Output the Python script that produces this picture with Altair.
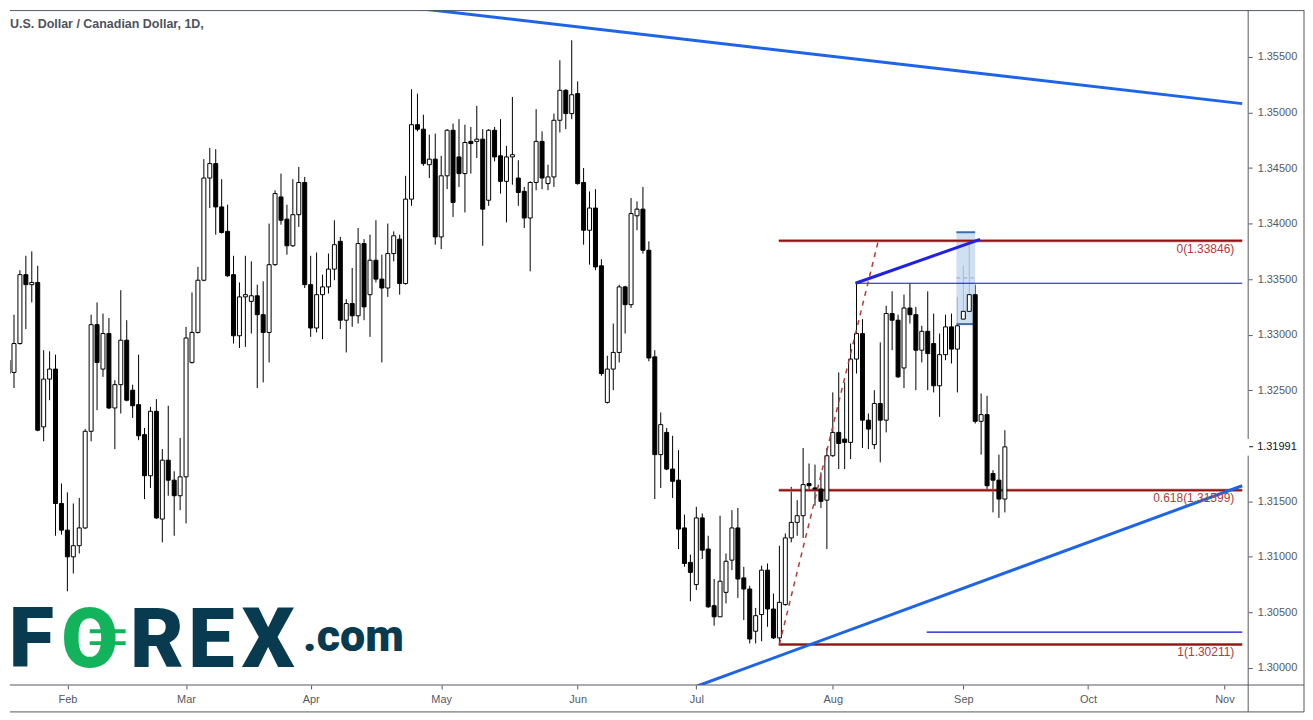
import altair as alt
import pandas as pd

# ---------------- data ----------------
FIRST_BAR = -10  # bar index of the first candle (index 0 = 1 Feb)

opens = [
    1.3277, 1.3266, 1.3292, 1.3354, 1.3345, 1.3347, 1.3217, 1.3260, 1.3269, 1.3148,
    1.3124, 1.3100, 1.3110, 1.3126, 1.3213, 1.3309, 1.3269, 1.3301, 1.3234, 1.3255,
    1.3295, 1.3250, 1.3237, 1.3210, 1.3173, 1.3231, 1.3134, 1.3187, 1.3169, 1.3155,
    1.3172, 1.3275, 1.3302, 1.3349, 1.3441, 1.3454, 1.3415, 1.3393, 1.3354, 1.3299,
    1.3334, 1.3330, 1.3335, 1.3318, 1.3302, 1.3363, 1.3424, 1.3404, 1.3380, 1.3408,
    1.3437, 1.3345, 1.3306, 1.3336, 1.3343, 1.3359, 1.3384, 1.3313, 1.3328, 1.3317,
    1.3382, 1.3336, 1.3367, 1.3350, 1.3342, 1.3373, 1.3386, 1.3346, 1.3422, 1.3489,
    1.3485, 1.3453, 1.3458, 1.3388, 1.3443, 1.3484, 1.3460, 1.3445, 1.3474, 1.3474,
    1.3476, 1.3421, 1.3484, 1.3461, 1.3438, 1.3460, 1.3441, 1.3429, 1.3405, 1.3437,
    1.3474, 1.3436, 1.3442, 1.3493, 1.3520, 1.3499, 1.3517, 1.3437, 1.3394, 1.3414,
    1.3362, 1.3239, 1.3269, 1.3284, 1.3343, 1.3327, 1.3407, 1.3413, 1.3376, 1.3280,
    1.3192, 1.3212, 1.3179, 1.3169, 1.3126, 1.3095, 1.3075, 1.3135, 1.3107, 1.3056,
    1.3046, 1.3068, 1.3097, 1.3126, 1.3081, 1.3071, 1.3033, 1.3048, 1.3088, 1.3053,
    1.3027, 1.3057, 1.3117, 1.3131, 1.3137, 1.3166, 1.3162, 1.3161, 1.3151, 1.3191,
    1.3212, 1.3206, 1.3203, 1.3278, 1.3301, 1.3223, 1.3201, 1.3238, 1.3223, 1.3319,
    1.3313, 1.3270, 1.3324, 1.3318, 1.3286, 1.3303, 1.3292, 1.3254, 1.3282, 1.3307,
    1.3287, 1.3314, 1.3321, 1.3336, 1.3222, 1.3228, 1.3175, 1.3169, 1.3152,
]
highs = [
    1.3284, 1.3318, 1.3358, 1.3371, 1.3375, 1.3362, 1.3286, 1.3285, 1.3282, 1.3166,
    1.3158, 1.3148, 1.3153, 1.3215, 1.3318, 1.3329, 1.3319, 1.3315, 1.3259, 1.3340,
    1.3313, 1.3255, 1.3282, 1.3216, 1.3235, 1.3242, 1.3197, 1.3236, 1.3177, 1.3207,
    1.3307, 1.3338, 1.3361, 1.3458, 1.3468, 1.3467, 1.3440, 1.3417, 1.3371, 1.3347,
    1.3371, 1.3366, 1.3345, 1.3348, 1.3400, 1.3430, 1.3445, 1.3417, 1.3440, 1.3451,
    1.3442, 1.3371, 1.3374, 1.3354, 1.3373, 1.3403, 1.3388, 1.3332, 1.3360, 1.3396,
    1.3386, 1.3390, 1.3403, 1.3372, 1.3400, 1.3393, 1.3390, 1.3443, 1.3521, 1.3517,
    1.3498, 1.3480, 1.3481, 1.3461, 1.3485, 1.3490, 1.3494, 1.3489, 1.3487, 1.3506,
    1.3485, 1.3485, 1.3487, 1.3494, 1.3470, 1.3514, 1.3457, 1.3433, 1.3438, 1.3503,
    1.3483, 1.3453, 1.3499, 1.3547, 1.3521, 1.3565, 1.3528, 1.3450, 1.3429, 1.3431,
    1.3368, 1.3281, 1.3310, 1.3345, 1.3344, 1.3423, 1.3420, 1.3433, 1.3384, 1.3286,
    1.3230, 1.3216, 1.3209, 1.3196, 1.3138, 1.3102, 1.3145, 1.3139, 1.3119, 1.3080,
    1.3137, 1.3103, 1.3142, 1.3144, 1.3091, 1.3074, 1.3054, 1.3092, 1.3094, 1.3067,
    1.3110, 1.3121, 1.3163, 1.3151, 1.3198, 1.3184, 1.3183, 1.3176, 1.3198, 1.3248,
    1.3266, 1.3257, 1.3292, 1.3346, 1.3314, 1.3229, 1.3250, 1.3293, 1.3326, 1.3339,
    1.3318, 1.3336, 1.3346, 1.3325, 1.3308, 1.3339, 1.3319, 1.3301, 1.3318, 1.3319,
    1.3334, 1.3362, 1.3385, 1.3345, 1.3247, 1.3245, 1.3178, 1.3192, 1.3214,
]
lows = [
    1.3229, 1.3252, 1.3291, 1.3305, 1.3329, 1.3213, 1.3204, 1.3241, 1.3119, 1.3120,
    1.3069, 1.3085, 1.3103, 1.3125, 1.3204, 1.3232, 1.3262, 1.3233, 1.3197, 1.3229,
    1.3240, 1.3225, 1.3205, 1.3152, 1.3162, 1.3134, 1.3113, 1.3155, 1.3119, 1.3142,
    1.3130, 1.3274, 1.3301, 1.3348, 1.3414, 1.3390, 1.3391, 1.3352, 1.3292, 1.3288,
    1.3289, 1.3301, 1.3252, 1.3257, 1.3275, 1.3362, 1.3399, 1.3372, 1.3379, 1.3397,
    1.3342, 1.3298, 1.3302, 1.3296, 1.3337, 1.3349, 1.3305, 1.3284, 1.3307, 1.3310,
    1.3313, 1.3298, 1.3347, 1.3275, 1.3334, 1.3366, 1.3336, 1.3345, 1.3416, 1.3483,
    1.3452, 1.3441, 1.3381, 1.3377, 1.3431, 1.3406, 1.3433, 1.3410, 1.3445, 1.3459,
    1.3380, 1.3416, 1.3456, 1.3427, 1.3401, 1.3435, 1.3416, 1.3396, 1.3357, 1.3430,
    1.3431, 1.3430, 1.3433, 1.3482, 1.3485, 1.3494, 1.3435, 1.3381, 1.3363, 1.3358,
    1.3263, 1.3238, 1.3250, 1.3275, 1.3301, 1.3324, 1.3394, 1.3373, 1.3276, 1.3152,
    1.3162, 1.3178, 1.3153, 1.3107, 1.3091, 1.3060, 1.3070, 1.3098, 1.3054, 1.3038,
    1.3046, 1.3058, 1.3088, 1.3063, 1.3043, 1.3022, 1.3022, 1.3024, 1.3037, 1.3026,
    1.3021, 1.3056, 1.3113, 1.3119, 1.3117, 1.3160, 1.3146, 1.3144, 1.3107, 1.3190,
    1.3179, 1.3179, 1.3188, 1.3265, 1.3198, 1.3197, 1.3197, 1.3185, 1.3212, 1.3286,
    1.3261, 1.3252, 1.3310, 1.3250, 1.3275, 1.3250, 1.3248, 1.3226, 1.3277, 1.3274,
    1.3248, 1.3313, 1.3320, 1.3220, 1.3192, 1.3160, 1.3140, 1.3135, 1.3140,
]
closes = [
    1.3265, 1.3292, 1.3354, 1.3345, 1.3347, 1.3214, 1.3260, 1.3269, 1.3148, 1.3124,
    1.3100, 1.3110, 1.3126, 1.3213, 1.3309, 1.3275, 1.3301, 1.3234, 1.3255, 1.3295,
    1.3241, 1.3236, 1.3209, 1.3173, 1.3231, 1.3135, 1.3187, 1.3169, 1.3155, 1.3172,
    1.3297, 1.3302, 1.3349, 1.3441, 1.3454, 1.3415, 1.3392, 1.3353, 1.3299, 1.3334,
    1.3336, 1.3335, 1.3318, 1.3302, 1.3363, 1.3427, 1.3403, 1.3380, 1.3408, 1.3437,
    1.3345, 1.3306, 1.3336, 1.3343, 1.3359, 1.3381, 1.3313, 1.3328, 1.3317, 1.3382,
    1.3325, 1.3367, 1.3350, 1.3342, 1.3373, 1.3389, 1.3346, 1.3422, 1.3489, 1.3485,
    1.3454, 1.3458, 1.3388, 1.3443, 1.3484, 1.3419, 1.3445, 1.3473, 1.3472, 1.3476,
    1.3413, 1.3484, 1.3460, 1.3438, 1.3460, 1.3462, 1.3428, 1.3405, 1.3437, 1.3474,
    1.3441, 1.3442, 1.3493, 1.3520, 1.3499, 1.3516, 1.3436, 1.3394, 1.3414, 1.3361,
    1.3265, 1.3269, 1.3284, 1.3343, 1.3327, 1.3409, 1.3413, 1.3376, 1.3279, 1.3192,
    1.3219, 1.3179, 1.3168, 1.3125, 1.3094, 1.3086, 1.3135, 1.3106, 1.3055, 1.3046,
    1.3078, 1.3096, 1.3126, 1.3080, 1.3071, 1.3026, 1.3047, 1.3088, 1.3053, 1.3027,
    1.3059, 1.3117, 1.3131, 1.3137, 1.3165, 1.3164, 1.3161, 1.3150, 1.3191, 1.3212,
    1.3202, 1.3203, 1.3278, 1.3301, 1.3223, 1.3215, 1.3238, 1.3223, 1.3319, 1.3313,
    1.3262, 1.3324, 1.3318, 1.3286, 1.3303, 1.3283, 1.3254, 1.3282, 1.3307, 1.3287,
    1.3308, 1.3321, 1.3336, 1.3222, 1.3228, 1.3164, 1.3169, 1.3152, 1.3199,
]

month_ticks = [0, 20, 41, 63, 86, 106, 129, 151, 172, 195]
month_labels = ["Feb", "Mar", "Apr", "May", "Jun", "Jul", "Aug", "Sep", "Oct", "Nov"]
price_ticks = [1.300, 1.305, 1.310, 1.315, 1.325, 1.330, 1.335, 1.340, 1.345, 1.350, 1.355]
last_price = 1.31991

fib_levels = [1.33846, 1.31599, 1.30211]
fib_texts = ["0(1.33846)", "0.618(1.31599)", "1(1.30211)"]
fib_start, fib_end, fib_label_bar = 119.9, 198.0, 196.67

upper_trend_bar = [56.17, 198.0]
upper_trend_price = [1.35955, 1.35080]
lower_trend_bar = [106.17, 198.0]
lower_trend_price = [1.29837, 1.31640]
swing_bar = [132.83, 153.83]
swing_price = [1.33463, 1.33858]
fib_diag_bar = [120.0, 136.67]
fib_diag_price = [1.30211, 1.33846]
hline_price = [1.33463, 1.30322]
hline_start = [132.83, 144.83]
box_bar = [149.83, 153.0]
box_price = [1.33095, 1.33921]
box_mid_price = 1.33511

title_text = "U.S. Dollar / Canadian Dollar, 1D,"

# ---------------- chart ----------------
W, H = 1242, 677
X_DOMAIN = [-8.833, 198.167]
Y_DOMAIN = [1.29846, 1.35922]
AX = "#55585f"
LABEL_FONT = "Liberation Sans"

label_expr = "[" + ",".join(f"'{m}'" for m in month_labels) + "][indexof([" + \
    ",".join(str(t) for t in month_ticks) + "], datum.value)]"

x_axis = alt.Axis(
    title=None, values=month_ticks, labelExpr=label_expr,
    grid=False, domain=False, ticks=True, tickSize=4, tickColor=AX,
    labelColor=AX, labelFont=LABEL_FONT, labelFontSize=11, labelPadding=5,
    labelOverlap=False, labelFlush=False,
)
y_axis = alt.Axis(
    title=None, orient="right", values=price_ticks, format=".5f",
    grid=False, domain=False, ticks=True, tickSize=4, tickColor=AX,
    labelColor=AX, labelFont=LABEL_FONT, labelFontSize=11, labelPadding=5,
    labelOverlap=False,
)


def X(field):
    return alt.X(f"{field}:Q", scale=alt.Scale(domain=X_DOMAIN, nice=False, zero=False), axis=x_axis)


def Y(field):
    return alt.Y(f"{field}:Q", scale=alt.Scale(domain=Y_DOMAIN, nice=False, zero=False), axis=y_axis)


n = len(opens)
candles = pd.DataFrame({
    "i": list(range(FIRST_BAR, FIRST_BAR + n)),
    "open": opens, "high": highs, "low": lows, "close": closes,
})

# candles
wicks = alt.Chart(candles).mark_rule(color="black", strokeWidth=1, clip=True).encode(
    x=X("i"), y=Y("low"), y2="high")
bodies = alt.Chart(candles).mark_bar(size=4, stroke="black", strokeWidth=1, clip=True).encode(
    x=X("i"), y=Y("open"), y2="close",
    fill=alt.when(alt.datum.close >= alt.datum.open).then(alt.value("white")).otherwise(alt.value("black")),
)

# highlight box
box_df = pd.DataFrame({"i0": [box_bar[0]], "i1": [box_bar[1]], "p0": [box_price[0]], "p1": [box_price[1]]})
box = alt.Chart(box_df).mark_rect(color="#C7DBF1", opacity=0.85, clip=True).encode(
    x=X("i0"), x2="i1", y=Y("p0"), y2="p1")
box_edges_df = pd.DataFrame({"i0": [box_bar[0]] * 2, "i1": [box_bar[1]] * 2, "p": box_price})
box_edges = alt.Chart(box_edges_df).mark_rule(color="#3C6EA4", strokeWidth=2, clip=True).encode(
    x=X("i0"), x2="i1", y=Y("p"))
box_mid_df = pd.DataFrame({"i0": [box_bar[0]], "i1": [box_bar[1]], "p": [box_mid_price]})
box_mid = alt.Chart(box_mid_df).mark_rule(color="#9aa6c2", strokeWidth=1, strokeDash=[4, 3], clip=True).encode(
    x=X("i0"), x2="i1", y=Y("p"))

# fib levels
fib_df = pd.DataFrame({"i0": [fib_start] * 3, "i1": [fib_end] * 3, "p": fib_levels,
                       "label": fib_texts, "li": [fib_label_bar] * 3})
fib_halo = alt.Chart(fib_df).mark_rule(color="#C96B6B", strokeWidth=3, clip=True).encode(
    x=X("i0"), x2="i1", y=Y("p"))
fib_core = alt.Chart(fib_df).mark_rule(color="#8E1414", strokeWidth=1.4, clip=True).encode(
    x=X("i0"), x2="i1", y=Y("p"))
fib_lab = alt.Chart(fib_df).mark_text(align="right", baseline="alphabetic", dy=12, fontSize=12,
                                      font=LABEL_FONT, color="#B23A3A").encode(
    x=X("li"), y=Y("p"), text="label:N")

# thin horizontal blue lines
hl_df = pd.DataFrame({"i0": hline_start, "i1": [fib_end] * 2, "p": hline_price})
hlines = alt.Chart(hl_df).mark_rule(color="#0A0AD8", strokeWidth=1.2, clip=True).encode(
    x=X("i0"), x2="i1", y=Y("p"))


def seg(bars, prices):
    return pd.DataFrame({"i0": [bars[0]], "i1": [bars[1]], "p0": [prices[0]], "p1": [prices[1]]})


fib_diag = alt.Chart(seg(fib_diag_bar, fib_diag_price)).mark_rule(
    color="#B83A3A", strokeWidth=1.5, strokeDash=[5, 5], clip=True).encode(
    x=X("i0"), x2="i1", y=Y("p0"), y2="p1")
upper_trend = alt.Chart(seg(upper_trend_bar, upper_trend_price)).mark_rule(
    color="#1E64E6", strokeWidth=3, clip=True).encode(x=X("i0"), x2="i1", y=Y("p0"), y2="p1")
lower_trend = alt.Chart(seg(lower_trend_bar, lower_trend_price)).mark_rule(
    color="#1E64E6", strokeWidth=3, clip=True).encode(x=X("i0"), x2="i1", y=Y("p0"), y2="p1")
swing = alt.Chart(seg(swing_bar, swing_price)).mark_rule(
    color="#2020E6", strokeWidth=3, clip=True).encode(x=X("i0"), x2="i1", y=Y("p0"), y2="p1")

one = pd.DataFrame({"k": [0]})


def frame_line(x0, x1, y0, y1):
    return alt.Chart(one).mark_rule(color=AX, strokeWidth=1).encode(
        x=alt.value(x0), x2=alt.value(x1), y=alt.value(y0), y2=alt.value(y1))


frames = [
    frame_line(0, 1298, 0.5, 0.5),      # top border
    frame_line(1298, 1298, 0, 704),     # right border
    frame_line(0, 1298, 704, 704),      # bottom border
    frame_line(W, W, 0, 704),           # price axis line
    frame_line(0, 1298, H, H),          # time axis line
]

# last price marker on the price scale (white gap, tick and label)
lp_df = pd.DataFrame({"p": [last_price], "p0": [last_price + 0.0007], "p1": [last_price - 0.0008],
                      "t": [f"{last_price:.5f}"]})
lp_gap = alt.Chart(lp_df).mark_rule(color="white", strokeWidth=3).encode(
    x=alt.value(W), y=Y("p0"), y2="p1")
lp_tick = alt.Chart(lp_df).mark_rule(color="#111111", strokeWidth=1).encode(
    x=alt.value(W + 1), x2=alt.value(W + 5), y=Y("p"))
lp_text = alt.Chart(lp_df).mark_text(align="left", baseline="middle", font=LABEL_FONT, fontSize=11,
                                     color="#111111").encode(x=alt.value(W + 9), y=Y("p"), text="t:N")

title = alt.Chart(pd.DataFrame({"t": [title_text]})).mark_text(
    align="left", baseline="alphabetic", font=LABEL_FONT, fontSize=12.5, fontWeight="bold",
    color="#4E525C").encode(x=alt.value(0), y=alt.value(18), text="t:N")

TEAL, GREEN = "#083B4F", "#12B35B"
logo_parts = []
for ch, cx, col in [("F", 21.5, TEAL), ("O", 80, GREEN), ("R", 147.5, TEAL), ("E", 202, TEAL), ("X", 259, TEAL)]:
    logo_parts.append(alt.Chart(pd.DataFrame({"t": [ch]})).mark_text(
        align="center", baseline="alphabetic", font="Roboto", fontWeight=900, fontSize=83, color=col).encode(
        x=alt.value(cx), y=alt.value(659), text="t:N"))
for yy in (623, 635):
    logo_parts.append(alt.Chart(one).mark_rule(color=GREEN, strokeWidth=4).encode(
        x=alt.value(80), x2=alt.value(116), y=alt.value(yy), y2=alt.value(yy)))
logo_parts.append(alt.Chart(pd.DataFrame({"t": [".com"]})).mark_text(
    align="left", baseline="alphabetic", font="Roboto", fontWeight=900, fontSize=45, color=TEAL).encode(
    x=alt.value(294), y=alt.value(643), text="t:N"))

chart = alt.layer(
    wicks, box, box_mid, box_edges, fib_halo, fib_core, hlines, bodies,
    fib_diag, lower_trend, upper_trend, swing, fib_lab,
    *frames, lp_gap, lp_tick, lp_text, title, *logo_parts,
).properties(
    width=W, height=H, padding=0, background="white",
).configure_view(stroke=None)

chart.save("out.html", embed_options={"renderer": "svg", "actions": False})
